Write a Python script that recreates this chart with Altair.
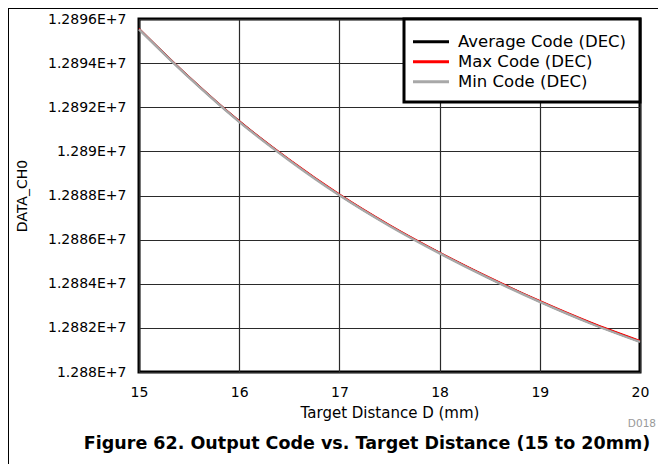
import altair as alt
import pandas as pd

# ---- data ----
distance = [15.0, 15.5, 16.0, 16.5, 17.0, 17.5, 18.0, 18.5, 19.0, 19.5, 20.0]
avg_code = [12895550, 12893360, 12891360, 12889610, 12888030, 12886640,
            12885395, 12884250, 12883195, 12882230, 12881380]
max_code = [12895575, 12893385, 12891385, 12889635, 12888060, 12886670,
            12885425, 12884285, 12883230, 12882270, 12881425]
min_code = [12895530, 12893340, 12891340, 12889590, 12888010, 12886620,
            12885375, 12884230, 12883175, 12882210, 12881360]

series_names = ["Average Code (DEC)", "Max Code (DEC)", "Min Code (DEC)"]
series_colors = ["#000000", "#ff0000", "#a8a8a8"]
series_widths = [2, 1.4, 2.4]

x_ticks = [15, 16, 17, 18, 19, 20]
y_ticks = [12880000, 12882000, 12884000, 12886000, 12888000,
           12890000, 12892000, 12894000, 12896000]

x_title = "Target Distance D (mm)"
y_title = "DATA_CH0"
caption = "Figure 62. Output Code vs. Target Distance (15 to 20mm)"
code_tag = "D018"

FONT = "DejaVu Sans"

rows = []
for name, vals in zip(series_names, [avg_code, max_code, min_code]):
    for d, v in zip(distance, vals):
        rows.append({"distance": d, "code": v, "series": name})
df = pd.DataFrame(rows)

W, H = 501, 353

x_enc = alt.X(
    "distance:Q",
    scale=alt.Scale(domain=[15, 20], nice=False, zero=False),
    axis=alt.Axis(
        values=x_ticks, grid=True, gridColor="#2a2a2a", gridWidth=1.2,
        ticks=False, tickSize=0, domain=False, labelFlush=False,
        labelFont=FONT, labelFontSize=14, labelColor="#000", labelPadding=13,
        title=x_title, titleFont=FONT, titleFontSize=15, titleFontWeight="normal",
        titleColor="#000", titleY=40, titleBaseline="middle",
    ),
)
y_enc = alt.Y(
    "code:Q",
    scale=alt.Scale(domain=[12880000, 12896000], nice=False, zero=False),
    axis=alt.Axis(
        values=y_ticks, grid=True, gridColor="#2a2a2a", gridWidth=1.2,
        ticks=False, tickSize=0, domain=False, labelFlush=False,
        labelExpr="format(datum.value / 1e7, '.5~f') + 'E+7'",
        labelFont=FONT, labelFontSize=14, labelColor="#000", labelPadding=13,
        title=y_title, titleFont=FONT, titleFontSize=14, titleFontWeight="normal",
        titleColor="#000", titleX=-117, titleY=H / 2, titleAngle=270,
        titleBaseline="middle", titleAlign="center",
    ),
)
color_enc = alt.Color(
    "series:N",
    scale=alt.Scale(domain=series_names, range=series_colors),
    legend=None,
)

base = alt.Chart(df)
layers = []
for name, sw in zip(series_names, series_widths):
    layers.append(
        base.transform_filter(alt.datum.series == name)
        .mark_line(interpolate="monotone", strokeWidth=sw)
        .encode(x=x_enc, y=y_enc, color=color_enc)
    )

one = alt.Data(values=[{}])

# legend (drawn by hand so that its box and spacing match)
legend_layers = [
    alt.Chart(one).mark_rect(fill="white", stroke="black", strokeWidth=3)
    .encode(x=alt.value(265), x2=alt.value(W), y=alt.value(0), y2=alt.value(83))
]
for i, (name, col) in enumerate(zip(series_names, series_colors)):
    ly = 22.7 + 20 * i
    legend_layers.append(
        alt.Chart(one).mark_rule(color=col, strokeWidth=3)
        .encode(x=alt.value(274), x2=alt.value(310), y=alt.value(ly))
    )
    legend_layers.append(
        alt.Chart(one).mark_text(
            text=name, font=FONT, fontSize=16.5, color="#000",
            align="left", baseline="middle",
        ).encode(x=alt.value(319), y=alt.value(ly))
    )

frame_top = alt.Chart(one).mark_rule(color="black", strokeWidth=1).encode(
    x=alt.value(-131), x2=alt.value(W + 20), y=alt.value(-10.5))
frame_left = alt.Chart(one).mark_rule(color="black", strokeWidth=1).encode(
    x=alt.value(-130.5), y=alt.value(-11), y2=alt.value(H + 95))

caption_text = alt.Chart(one).mark_text(
    text=caption, font=FONT, fontSize=17.5, fontWeight="bold", color="#000",
    align="center", baseline="middle",
).encode(x=alt.value(228), y=alt.value(425))

tag_text = alt.Chart(one).mark_text(
    text=code_tag, font=FONT, fontSize=10.5, color="#999999",
    align="right", baseline="middle",
).encode(x=alt.value(W + 16), y=alt.value(405))

chart = alt.layer(
    *layers, *legend_layers, frame_top, frame_left, caption_text, tag_text
).properties(
    width=W, height=H,
    autosize=alt.AutoSizeParams(type="none"),
    padding={"left": 131, "top": 11, "right": 18, "bottom": 92},
).configure_view(
    stroke="black", strokeWidth=3
)

chart.save("out.html", embed_options={"renderer": "svg", "actions": False})
